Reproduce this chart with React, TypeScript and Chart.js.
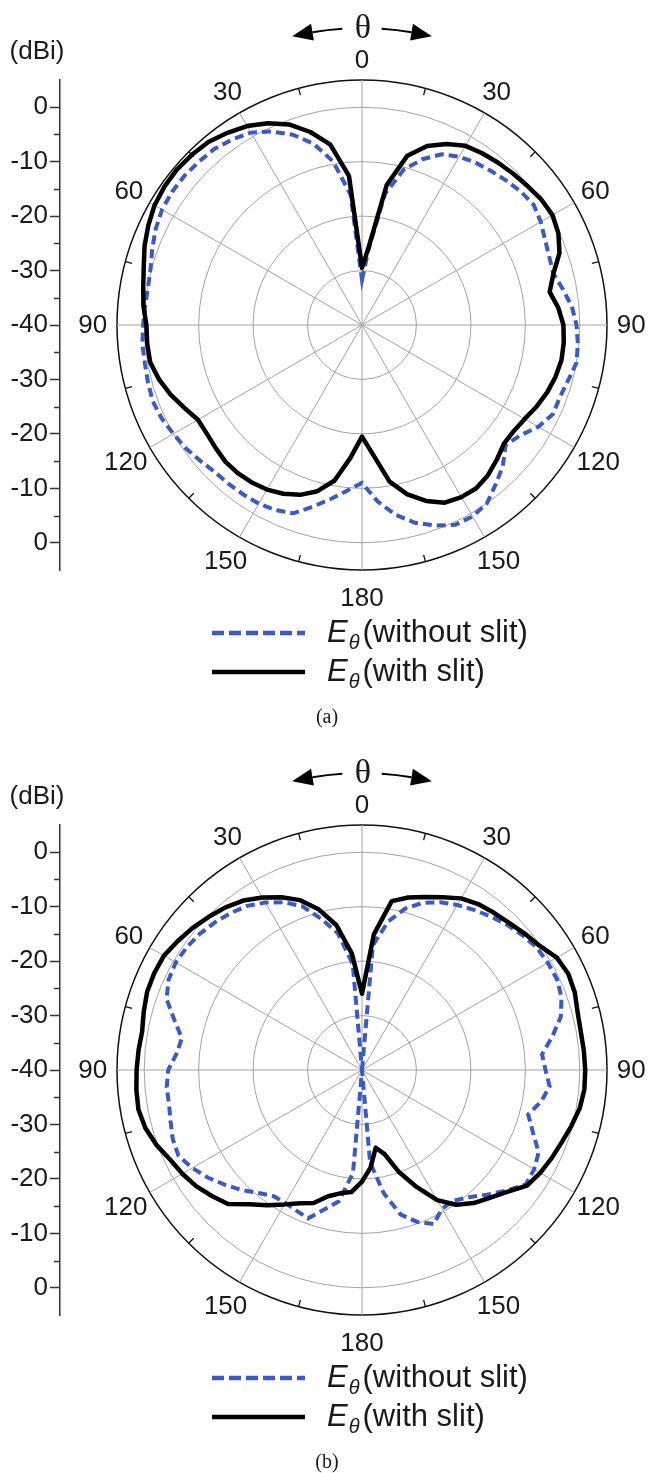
import React, { useEffect, useRef } from 'react';
import { Chart, registerables } from 'chart.js';

Chart.register(...registerables);

// ---------- data ----------
const angleCategories = [
  0, 5, 10, 15, 20, 25, 30, 35, 40, 45, 50, 55,
  60, 65, 70, 75, 80, 85, 90, 95, 100, 105, 110, 115,
  120, 125, 130, 135, 140, 145, 150, 155, 160, 165, 170, 175,
  180, 185, 190, 195, 200, 205, 210, 215, 220, 225, 230, 235,
  240, 245, 250, 255, 260, 265, 270, 275, 280, 285, 290, 295,
  300, 305, 310, 315, 320, 325, 330, 335, 340, 345, 350, 355,
];
const angleTickLabels = ['0', '30', '60', '90', '120', '150', '180', '150', '120', '90', '60', '30'];
const radialGridValues = [-40, -30, -20, -10, 0, 5];
const gainAxisTicks = [-40, -30, -20, -10, 0, 10, 20, 30, 40];
const gainAxisMinorTicks = [-35, -25, -15, -5, 5, 15, 25, 35];

const withSlitA = [
  -29.5, -25.5, -13.9, -7.8, -5.0, -3.3, -2.0, -1.5, -1.1, -0.7, -0.3, 0.2,
  0.4, -0.2, -1.4, -3.6, -5.0, -3.8, -3.0, -2.8, -2.8, -3.2, -3.8, -4.6,
  -5.5, -6.0, -6.0, -5.0, -4.0, -3.4, -3.5, -4.0, -5.6, -7.8, -10.8, -16.0,
  -19.5, -15.5, -11.0, -8.4, -6.8, -5.8, -5.1, -4.7, -4.5, -4.5, -4.9, -5.2,
  -5.2, -4.0, -2.6, -1.4, -0.5, -0.4, -0.4, 0.3, 0.8, 1.5, 2.5, 3.3,
  4.0, 4.3, 4.4, 4.2, 3.9, 3.1, 2.2, 0.9, -0.8, -3.3, -6.3, -12.5,
];
const withoutSlitA = [
  -31.7, -26.0, -15.5, -10.5, -7.6, -5.4, -4.3, -3.6, -3.1, -2.5, -1.9, -1.5,
  -2.1, -2.9, -3.4, -3.6, -2.5, -1.3, -0.6, -0.2, 0.0, -0.8, -1.3, -1.3,
  -2.6, -4.6, -5.6, -3.4, -1.8, 0.0, 0.6, 0.5, -0.8, -2.4, -4.6, -7.5,
  -11.0, -9.5, -7.6, -5.5, -3.2, -2.5, -2.1, -2.0, -1.9, -1.8, -1.2, -0.5,
  0.0, 0.6, 0.9, 0.7, 0.5, 0.5, 0.2, 0.0, -0.1, 0.2, 1.0, 1.8,
  2.4, 2.6, 2.6, 2.4, 2.2, 1.6, 0.8, -0.8, -2.8, -5.5, -9.5, -16.0,
];
const withSlitB = [
  -26.0, -15.0, -8.5, -7.2, -6.2, -5.0, -3.6, -2.8, -2.3, -1.8, -1.0, -0.2,
  1.3, 1.8, 1.6, 1.0, 0.8, 0.9, 1.0, 1.0, 0.6, -0.2, -1.0, -1.6,
  -2.2, -3.0, -5.2, -6.8, -8.1, -9.8, -12.4, -16.3, -20.0, -24.0, -25.5, -22.0,
  -19.5, -17.5, -17.0, -16.0, -14.0, -13.0, -11.5, -9.7, -7.8, -5.2, -4.0, -2.8,
  -1.9, -1.1, 0.2, 1.2, 1.7, 1.6, 1.4, 1.2, 1.0, 1.5, 2.0, 2.1,
  2.0, 1.3, 0.6, -0.2, -1.0, -2.0, -3.4, -5.0, -6.8, -9.5, -13.0, -18.5,
];
const withoutSlitB = [
  -40.0, -17.0, -12.3, -9.3, -7.3, -6.0, -5.0, -4.1, -3.2, -2.3, -1.5, -0.8,
  -0.6, -0.5, -1.0, -2.2, -4.5, -6.8, -6.3, -5.4, -6.6, -8.4, -6.6, -4.2,
  -3.5, -3.3, -5.5, -7.6, -9.5, -10.7, -10.6, -8.8, -10.3, -12.5, -17.0, -23.0,
  -40.0, -21.0, -15.5, -13.5, -11.0, -11.5, -11.8, -11.7, -10.5, -8.8, -7.2, -5.5,
  -4.0, -2.8, -3.0, -3.6, -4.0, -4.0, -4.4, -5.8, -6.4, -4.3, -1.8, -0.8,
  -0.5, -0.7, -1.1, -1.7, -2.4, -3.2, -4.5, -6.0, -8.0, -11.3, -14.5, -20.5,
];

const BLUE = '#3b5bc4';
const TEXT = '#1a1a1a';
const SANS = '"Liberation Sans", Arial, sans-serif';
const SERIF = '"Liberation Serif", "Times New Roman", serif';

// ---------- plugins ----------
function drawArrow(ctx: any, cx: number, cy: number, r: number, dir: number) {
  const rad = (deg: number) => ((deg - 90) * Math.PI) / 180;
  const pt = (deg: number, rr: number) => [cx + rr * Math.cos(rad(deg)), cy + rr * Math.sin(rad(deg))];
  const a0 = dir * 3.8;
  const a1 = dir * 9.6;
  const tip = dir * 13.6;
  ctx.beginPath();
  ctx.lineWidth = 2;
  ctx.strokeStyle = '#000';
  ctx.arc(cx, cy, r, rad(a0), rad(a1), dir < 0);
  ctx.stroke();
  const t = pt(tip, r);
  const b1 = pt(a1, r - 8.5);
  const b2 = pt(a1, r + 8.5);
  ctx.beginPath();
  ctx.moveTo(t[0], t[1]);
  ctx.lineTo(b1[0], b1[1]);
  ctx.lineTo(b2[0], b2[1]);
  ctx.closePath();
  ctx.fillStyle = '#000';
  ctx.fill();
}

const polarDecor = {
  id: 'polarDecor',
  afterDraw(chart: any) {
    const s = chart.scales.r;
    const ctx = chart.ctx;
    const R = s.getDistanceFromCenterForValue(s.max);
    const n = chart.data.labels.length;
    const step = n / 12;
    ctx.save();
    ctx.strokeStyle = '#111';
    ctx.lineWidth = 1.3;
    for (let i = step / 2; i < n; i += step) {
      const a = s.getPointPosition(i, R);
      const b = s.getPointPosition(i, R - 7);
      ctx.beginPath();
      ctx.moveTo(a.x, a.y);
      ctx.lineTo(b.x, b.y);
      ctx.stroke();
    }
    ctx.fillStyle = TEXT;
    ctx.font = '26px ' + SANS;
    ctx.textAlign = 'center';
    ctx.textBaseline = 'middle';
    angleTickLabels.forEach((txt, k) => {
      const w = ctx.measureText(txt).width;
      const p = s.getPointPosition(k * step, R + 17 + 0.25 * w);
      ctx.fillText(txt, p.x, p.y + 1);
    });
    drawArrow(ctx, s.xCenter, s.yCenter, R + 52, -1);
    drawArrow(ctx, s.xCenter, s.yCenter, R + 52, 1);
    ctx.restore();
  },
};

const minorTicks = {
  id: 'minorTicks',
  afterDraw(chart: any) {
    const y = chart.scales.y;
    const ctx = chart.ctx;
    ctx.save();
    ctx.strokeStyle = '#333';
    ctx.lineWidth = 1.5;
    gainAxisMinorTicks.forEach((v) => {
      const py = Math.round(y.getPixelForValue(v)) + 0.5;
      ctx.beginPath();
      ctx.moveTo(y.right - 6, py);
      ctx.lineTo(y.right, py);
      ctx.stroke();
    });
    ctx.restore();
  },
};

// ---------- components ----------
function LegendRow({ y, dashed, text }: { y: number; dashed: boolean; text: string }) {
  return (
    <>
      <svg style={{ position: 'absolute', left: 0, top: y - 5 }} width={320} height={10}>
        <line
          x1={212}
          x2={305}
          y1={5}
          y2={5}
          stroke={dashed ? BLUE : '#000'}
          strokeWidth={4.5}
          strokeDasharray={dashed ? '12 5' : undefined}
        />
      </svg>
      <div
        style={{
          position: 'absolute',
          left: 327,
          top: y,
          transform: 'translateY(-55%)',
          fontFamily: SANS,
          fontSize: 31,
          lineHeight: 1,
          color: TEXT,
          whiteSpace: 'nowrap',
        }}
      >
        <span style={{ fontStyle: 'italic' }}>E</span>
        <span style={{ fontStyle: 'italic', fontSize: 20, position: 'relative', top: 7, marginLeft: 1, marginRight: 3 }}>θ</span>
        {text}
      </div>
    </>
  );
}

function PolarPanel({ top, withoutSlit, withSlit, caption }: any) {
  const radarRef = useRef<HTMLCanvasElement>(null);
  const axisRef = useRef<HTMLCanvasElement>(null);

  useEffect(() => {
    const radar = new Chart(radarRef.current as HTMLCanvasElement, {
      type: 'radar',
      data: {
        labels: angleCategories,
        datasets: [
          {
            label: 'Eθ (with slit)',
            data: withSlit,
            borderColor: '#000',
            borderWidth: 4.5,
            fill: false,
            pointRadius: 0,
            borderJoinStyle: 'round',
          },
          {
            label: 'Eθ (without slit)',
            data: withoutSlit,
            borderColor: BLUE,
            borderWidth: 4,
            borderDash: [9, 5],
            fill: false,
            pointRadius: 0,
          },
        ],
      },
      options: {
        animation: false,
        responsive: false,
        layout: { padding: { left: 117, right: 41, top: 80, bottom: 50 } },
        plugins: { legend: { display: false }, tooltip: { enabled: false } },
        elements: { line: { tension: 0 }, point: { radius: 0 } },
        scales: {
          r: {
            min: -40,
            max: 5,
            afterBuildTicks: (s: any) => {
              s.ticks = radialGridValues.map((v) => ({ value: v }));
            },
            ticks: { display: false },
            pointLabels: { display: false },
            grid: {
              circular: true,
              color: (c: any) => (c.tick && c.tick.value === 5 ? '#111' : '#a3a3a3'),
              lineWidth: (c: any) => (c.tick && c.tick.value === 5 ? 1.5 : 1),
            },
            angleLines: {
              color: (c: any) => (c.index % 6 === 0 ? '#a3a3a3' : 'rgba(0,0,0,0)'),
              lineWidth: (c: any) => (c.index % 6 === 0 ? 1 : 0),
            },
          },
        },
      } as any,
      plugins: [polarDecor],
    });

    const axis = new Chart(axisRef.current as HTMLCanvasElement, {
      type: 'scatter',
      data: { datasets: [] },
      options: {
        animation: false,
        responsive: false,
        layout: { padding: { top: 20, bottom: 20, left: 0, right: 0 } },
        plugins: { legend: { display: false }, tooltip: { enabled: false } },
        scales: {
          x: { display: false },
          y: {
            min: -45,
            max: 45,
            position: 'left',
            afterBuildTicks: (s: any) => {
              s.ticks = gainAxisTicks.map((v) => ({ value: v }));
            },
            afterFit: (s: any) => {
              s.width = 60;
            },
            ticks: {
              callback: (v: any) => String(-40 + Math.abs(Number(v))),
              font: { family: SANS, size: 26 },
              color: TEXT,
              padding: 2,
              autoSkip: false,
            },
            grid: { drawOnChartArea: false, drawTicks: true, tickLength: 10, tickColor: '#333', tickWidth: 1.5 },
            border: { display: true, color: '#333', width: 1.5 },
          },
        },
      } as any,
      plugins: [minorTicks],
    });

    return () => {
      radar.destroy();
      axis.destroy();
    };
  }, []);

  return (
    <div style={{ position: 'absolute', left: 0, top, width: 648, height: 745 }}>
      <canvas ref={radarRef} width={648} height={620} style={{ position: 'absolute', left: 0, top: 0 }} />
      <canvas ref={axisRef} width={70} height={530} style={{ position: 'absolute', left: 0, top: 60 }} />
      <div
        style={{
          position: 'absolute',
          left: 37,
          top: 50,
          transform: 'translate(-50%, -50%)',
          fontFamily: SANS,
          fontSize: 26,
          lineHeight: 1,
          color: TEXT,
          whiteSpace: 'nowrap',
        }}
      >
        (dBi)
      </div>
      <div
        style={{
          position: 'absolute',
          left: 363,
          top: 27,
          transform: 'translate(-50%, -50%)',
          fontFamily: SERIF,
          fontSize: 34,
          lineHeight: 1,
          color: TEXT,
        }}
      >
        θ
      </div>
      <LegendRow y={633} dashed={true} text="(without slit)" />
      <LegendRow y={672} dashed={false} text="(with slit)" />
      <div
        style={{
          position: 'absolute',
          left: 327,
          top: 716,
          transform: 'translate(-50%, -50%)',
          fontFamily: SERIF,
          fontSize: 20,
          lineHeight: 1,
          color: TEXT,
        }}
      >
        {caption}
      </div>
    </div>
  );
}

export default function App() {
  return (
    <div style={{ position: 'absolute', left: 0, top: 0, width: 648, height: 1473, background: '#fff' }}>
      <PolarPanel top={0} withoutSlit={withoutSlitA} withSlit={withSlitA} caption="(a)" />
      <PolarPanel top={745} withoutSlit={withoutSlitB} withSlit={withSlitB} caption="(b)" />
    </div>
  );
}
